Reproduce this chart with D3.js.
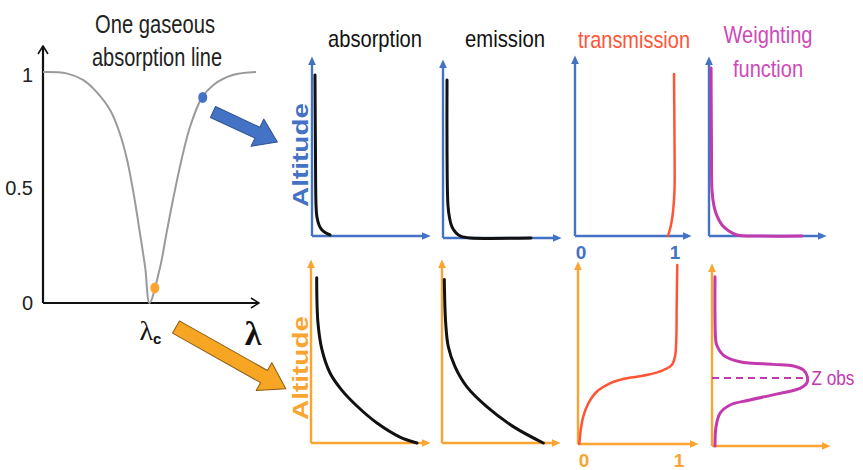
<!DOCTYPE html>
<html>
<head>
<meta charset="utf-8">
<script src="https://cdn.jsdelivr.net/npm/d3@7"></script>
<style>
  body { margin: 0; background: #fff; }
  svg { display: block; }
</style>
</head>
<body>
<script>
// ---- One gaseous absorption line (transmittance vs wavelength) ----
const lineWavelength   = [0, 1.1, 1.9, 2.5, 3.15, 3.6, 3.95, 4.25, 4.55, 4.8, 5.0, 5.5, 5.8, 6.1, 6.5, 6.9, 7.45, 8.0, 8.9, 10];
const lineTransmittance = [1.0, 0.994, 0.965, 0.915, 0.835, 0.736, 0.619, 0.476, 0.303, 0.152, 0.0, 0.156, 0.303, 0.446, 0.619, 0.762, 0.887, 0.944, 0.987, 1.0];
const lineTicks = [0, 0.5, 1];
const wingPoint   = [7.5, 0.89];   // line wing (blue)
const centrePoint = [5.25, 0.065]; // line centre (orange)
const zObs = 0.38;                 // altitude of the weighting-function peak

// ---- Vertical profiles, [value, altitude] ----
// line wing
const wingAbsorption = [[0.026,0.915],[0.03,0.49],[0.035,0.176],[0.043,0.108],[0.061,0.0625],[0.087,0.034],[0.122,0.017],[0.157,0.006]];
const wingEmission = [[0.035,0.903],[0.035,0.503],[0.043,0.189],[0.057,0.114],[0.078,0.063],[0.113,0.029],[0.157,0.009],[0.235,0],[0.765,0]];
const wingTransmission = [[0.99,0.915],[0.995,0.542],[0.995,0.26],[0.98,0.136],[0.96,0.062],[0.93,0]];
const wingWeighting = [[0.018,0.955],[0.022,0.489],[0.026,0.261],[0.044,0.17],[0.07,0.114],[0.114,0.0625],[0.175,0.028],[0.246,0.006],[0.447,0],[0.816,0]];
// line centre
const centreAbsorption = [[0.049,0.918],[0.06,0.667],[0.095,0.517],[0.164,0.389],[0.265,0.294],[0.405,0.2],[0.569,0.111],[0.767,0.033],[0.914,0]];
const centreEmission = [[0.02,0.909],[0.032,0.667],[0.055,0.535],[0.113,0.424],[0.215,0.313],[0.389,0.202],[0.62,0.091],[0.881,0]];
const centreTransmission = [[0.013,0],[0.027,0.078],[0.052,0.153],[0.102,0.227],[0.185,0.292],[0.317,0.339],[0.482,0.367],[0.68,0.385],[0.845,0.413],[0.928,0.441],[0.96,0.488],[0.973,0.581],[0.977,0.767],[0.983,1.0]];
const centreWeighting = [[0.026,0.946],[0.032,0.592],[0.041,0.564],[0.098,0.508],[0.243,0.471],[0.533,0.456],[0.707,0.447],[0.794,0.425],[0.829,0.387],[0.823,0.35],[0.765,0.322],[0.591,0.294],[0.33,0.257],[0.157,0.229],[0.07,0.183],[0.035,0.108],[0.026,0]];
const panelTitles = ["absorption", "emission", "transmission", "Weighting function"];
const unitTicks = [0, 1];

const W = 863, H = 470;
const FONT = "'Liberation Sans', Arial, sans-serif";
const BLUE = "#4472C4", ORANGE = "#FAA531", RED = "#FF5536", MAGENTA = "#C23AAE", GREY = "#9a9a9a";

const svg = d3.select("body").append("svg").attr("width", W).attr("height", H);
const defs = svg.append("defs");

function solidHead(id, color) {
  defs.append("marker").attr("id", id)
    .attr("viewBox", "0 0 10 10").attr("refX", 6).attr("refY", 5)
    .attr("markerWidth", 9).attr("markerHeight", 9)
    .attr("markerUnits", "userSpaceOnUse").attr("orient", "auto")
    .append("path").attr("d", "M0,0.5 L10,5 L0,9.5 Z").attr("fill", color);
}
solidHead("head-blue", BLUE);
solidHead("head-orange", ORANGE);
defs.append("marker").attr("id", "head-black")
  .attr("viewBox", "0 0 10 12").attr("refX", 9).attr("refY", 6)
  .attr("markerWidth", 10).attr("markerHeight", 12)
  .attr("markerUnits", "userSpaceOnUse").attr("orient", "auto")
  .append("path").attr("d", "M1,1 L9,6 L1,11").attr("fill", "none")
  .attr("stroke", "#111").attr("stroke-width", 1.6);

// ================= spectral line panel =================
const lx = d3.scaleLinear().domain([0, 10]).range([43, 256]);
const ly = d3.scaleLinear().domain([0, 1]).range([303, 72]);

svg.append("line").attr("x1", lx(0)).attr("y1", ly(0)).attr("x2", lx(0)).attr("y2", 46)
  .attr("stroke", "#111").attr("stroke-width", 2.2).attr("marker-end", "url(#head-black)");
svg.append("line").attr("x1", lx(0)).attr("y1", ly(0)).attr("x2", 259).attr("y2", ly(0))
  .attr("stroke", "#111").attr("stroke-width", 2.2).attr("marker-end", "url(#head-black)");

svg.append("g").selectAll("text").data(lineTicks).join("text")
  .attr("x", 33).attr("y", d => ly(d) + (d === 1 ? 3 : 0)).attr("dy", "0.36em")
  .attr("text-anchor", "end").attr("font-family", FONT).attr("font-size", 20).attr("fill", "#222")
  .text(d => d === 0.5 ? "0.5" : String(d));

const spectrum = lineWavelength.map((w, i) => [w, lineTransmittance[i]]);
svg.append("path").datum(spectrum)
  .attr("d", d3.line().x(d => lx(d[0])).y(d => ly(d[1])).curve(d3.curveCatmullRom.alpha(0.5)))
  .attr("fill", "none").attr("stroke", GREY).attr("stroke-width", 2);

svg.append("ellipse").attr("cx", lx(wingPoint[0])).attr("cy", ly(wingPoint[1])).attr("rx", 4.5).attr("ry", 5.5).attr("fill", BLUE);
svg.append("ellipse").attr("cx", lx(centrePoint[0])).attr("cy", ly(centrePoint[1])).attr("rx", 4.5).attr("ry", 5.5).attr("fill", ORANGE);

svg.append("text").attr("x", 155).attr("y", 33).attr("text-anchor", "middle")
  .attr("font-family", FONT).attr("font-size", 26).attr("fill", "#222")
  .attr("textLength", 120).attr("lengthAdjust", "spacingAndGlyphs").text("One gaseous");
svg.append("text").attr("x", 157).attr("y", 66).attr("text-anchor", "middle")
  .attr("font-family", FONT).attr("font-size", 26).attr("fill", "#222")
  .attr("textLength", 130).attr("lengthAdjust", "spacingAndGlyphs").text("absorption line");

const lc = svg.append("text").attr("x", lx(5) - 10).attr("y", 340)
  .attr("font-family", "'Liberation Serif', 'Times New Roman', serif").attr("font-size", 28).attr("fill", "#111");
lc.append("tspan").text("λ");
lc.append("tspan").attr("dy", 4).attr("font-family", FONT).attr("font-size", 15).attr("font-weight", "bold").text("c");
svg.append("text").attr("x", 253).attr("y", 345).attr("text-anchor", "middle")
  .attr("font-family", "'Liberation Serif', 'Times New Roman', serif").attr("font-size", 34)
  .attr("font-weight", "bold").attr("fill", "#111").text("λ");

// ================= block arrows =================
function blockArrow(x, y, angle, len, shaft, head, headLen, fill, stroke) {
  const b = len - headLen;
  const pts = [[0, -shaft], [b, -shaft], [b, -head], [len, 0], [b, head], [b, shaft], [0, shaft]];
  svg.append("path").attr("d", "M" + pts.map(p => p.join(",")).join("L") + "Z")
    .attr("transform", `translate(${x},${y}) rotate(${angle})`)
    .attr("fill", fill).attr("stroke", stroke).attr("stroke-width", 1).attr("stroke-linejoin", "round");
}
blockArrow(213, 112, 25, 71, 6, 15, 22, "#4472C4", "#2F528F");
blockArrow(176, 327, 29.4, 126, 7, 16, 25, "#F6A623", "#8A5A10");

// ================= profile panels =================
const panels = [
  { x0: 312, y0: 236, x1: 427, yTop: 60, xEnd: 427, color: BLUE, data: wingAbsorption, stroke: "#111", w: 3 },
  { x0: 443, y0: 238, x1: 558, yTop: 63, xEnd: 558, color: BLUE, data: wingEmission, stroke: "#111", w: 3 },
  { x0: 575, y0: 236, x1: 675, yTop: 59, xEnd: 688, color: BLUE, data: wingTransmission, stroke: RED, w: 2.5, ticks: true },
  { x0: 709, y0: 236, x1: 823, yTop: 60, xEnd: 823, color: BLUE, data: wingWeighting, stroke: MAGENTA, w: 3 },
  { x0: 311, y0: 443, x1: 427, yTop: 263, xEnd: 427, color: ORANGE, data: centreAbsorption, stroke: "#111", w: 3 },
  { x0: 442, y0: 443, x1: 557, yTop: 263, xEnd: 557, color: ORANGE, data: centreEmission, stroke: "#111", w: 3 },
  { x0: 578, y0: 444, x1: 679, yTop: 265, xEnd: 695, color: ORANGE, data: centreTransmission, stroke: RED, w: 2.5, ticks: true },
  { x0: 712, y0: 446, x1: 827, yTop: 267, xEnd: 827, color: ORANGE, data: centreWeighting, stroke: MAGENTA, w: 3, zobs: true }
];

panels.forEach(p => {
  const x = d3.scaleLinear().domain([0, 1]).range([p.x0, p.x1]);
  const y = d3.scaleLinear().domain([0, 1]).range([p.y0, p.yTop]);
  const head = p.color === BLUE ? "url(#head-blue)" : "url(#head-orange)";
  const g = svg.append("g");
  g.append("line").attr("x1", p.x0).attr("y1", p.y0).attr("x2", p.x0).attr("y2", p.yTop)
    .attr("stroke", p.color).attr("stroke-width", 2.4).attr("marker-end", head);
  g.append("line").attr("x1", p.x0).attr("y1", p.y0).attr("x2", p.xEnd).attr("y2", p.y0)
    .attr("stroke", p.color).attr("stroke-width", 2.4).attr("marker-end", head);

  if (p.zobs) {
    g.append("line").attr("x1", x(0)).attr("x2", x(0.83)).attr("y1", y(zObs)).attr("y2", y(zObs))
      .attr("stroke", MAGENTA).attr("stroke-width", 2).attr("stroke-dasharray", "7,5");
    g.append("text").attr("x", x(0.865)).attr("y", y(zObs)).attr("dy", "0.35em")
      .attr("font-family", FONT).attr("font-size", 21).attr("fill", MAGENTA)
      .attr("textLength", 43).attr("lengthAdjust", "spacingAndGlyphs").text("Z obs");
  }

  g.append("path").datum(p.data)
    .attr("d", d3.line().x(d => x(d[0])).y(d => y(d[1])).curve(d3.curveCatmullRom.alpha(0.5)))
    .attr("fill", "none").attr("stroke", p.stroke).attr("stroke-width", p.w)
    .attr("stroke-linecap", "round").attr("stroke-linejoin", "round");

  if (p.ticks) {
    g.selectAll("text.tick").data(unitTicks).join("text").attr("class", "tick")
      .attr("x", d => x(d) + (d === 0 ? 6 : 0)).attr("y", p.y0 + 16).attr("dy", "0.35em")
      .attr("text-anchor", "middle").attr("font-family", FONT).attr("font-size", 19)
      .attr("font-weight", "bold").attr("fill", p.color).text(d => d);
  }
});

// altitude labels
[[155, BLUE], [368, ORANGE]].forEach(([cy, c]) => {
  svg.append("text").attr("transform", `translate(300,${cy}) rotate(-90)`)
    .attr("text-anchor", "middle").attr("dy", "0.35em")
    .attr("font-family", FONT).attr("font-size", 22).attr("font-weight", "bold").attr("fill", c)
    .attr("textLength", 104).attr("lengthAdjust", "spacingAndGlyphs").text("Altitude");
});

// panel titles
const titleStyle = sel => sel.attr("text-anchor", "middle").attr("font-family", FONT).attr("font-size", 24);
titleStyle(svg.append("text").attr("x", 375).attr("y", 47).attr("fill", "#111")
  .attr("textLength", 94).attr("lengthAdjust", "spacingAndGlyphs")).text(panelTitles[0]);
titleStyle(svg.append("text").attr("x", 505).attr("y", 47).attr("fill", "#111")
  .attr("textLength", 80).attr("lengthAdjust", "spacingAndGlyphs")).text(panelTitles[1]);
titleStyle(svg.append("text").attr("x", 634).attr("y", 48).attr("fill", RED)
  .attr("textLength", 112).attr("lengthAdjust", "spacingAndGlyphs")).text(panelTitles[2]);
const wfWords = panelTitles[3].split(" ");
titleStyle(svg.append("text").attr("x", 768).attr("y", 43).attr("fill", "#CF49B8")
  .attr("textLength", 89).attr("lengthAdjust", "spacingAndGlyphs")).text(wfWords[0]);
titleStyle(svg.append("text").attr("x", 768).attr("y", 77).attr("fill", "#CF49B8")
  .attr("textLength", 70).attr("lengthAdjust", "spacingAndGlyphs")).text(wfWords[1]);
</script>
</body>
</html>
